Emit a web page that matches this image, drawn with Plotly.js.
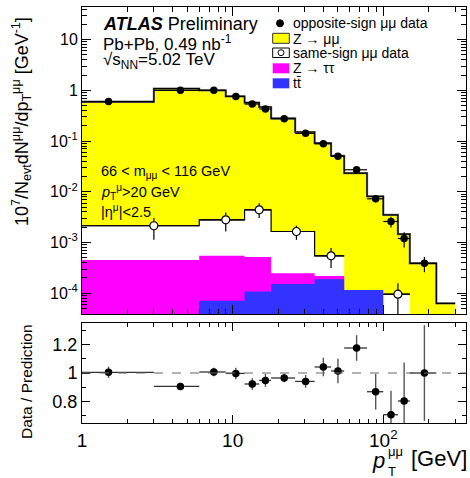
<!DOCTYPE html>
<html><head><meta charset="utf-8">
<script src="https://cdn.plot.ly/plotly-3.0.1.min.js"></script>
<style>body{margin:0;padding:0;background:#fff}</style>
</head><body><div id="plot" style="width:470px;height:478px"></div>
<script>
// ---------------- data ----------------
const binEdges   = [0,3,6,9,12,15,18,26,35,45,55,78,100,125,150,225,300];
const totalPred  = [0.59,1.08,1.0,0.76,0.571,0.47,0.28,0.151,0.091,0.0514,0.0234,0.0081,0.00352,0.00146,3.9e-4,6.3e-5];
const osData     = [0.605,1.0,1.0,0.76,0.537,0.43,0.275,0.142,0.0885,0.050,0.0272,0.00728,0.0026,0.0012,3.9e-4];
const ratioVals  = [1.005,0.906,1.007,0.997,0.923,0.948,0.965,0.941,1.042,1.014,1.175,0.869,0.708,0.804,1.0];
const ratioErr   = [0.04,0.025,0.03,0.04,0.04,0.045,0.03,0.045,0.065,0.085,0.09,0.125,0.168,0.27,0.335];
const ssEdges    = [0,6,12,18,35,55,100,150,300];
const ssData     = [2.14e-3,2.8e-3,4.42e-3,1.65e-3,5.46e-4,0,9.6e-5,0];
const ssErrUp    = [0.9e-3,1.1e-3,1.56e-3,0.5e-3,2.3e-4,0,6.2e-5,0];
const ssErrDown  = [1.0e-3,1.15e-3,1.39e-3,0.52e-3,2.3e-4,0,9.6e-5,0];
const zttLevel   = [4.5e-4,5.46e-4,5.2e-4,2.48e-4,2.2e-4,0,0,0];
const ttbarLevel = [0,7.1e-5,1.08e-4,1.53e-4,1.89e-4,1.16e-4,0,0];
const xTickVals  = [1,10,100];
const xTickText  = ['1','10','10<sup>2</sup>'];
const yTickVals  = [1e-4,1e-3,1e-2,1e-1,1,10];
const yTickText  = ['10<sup>-4</sup>','10<sup>-3</sup>','10<sup>-2</sup>','10<sup>-1</sup>','1','10'];
const rTickVals  = [0.8,1,1.2];
const rTickText  = ['0.8','1','1.2'];

// ---------------- helpers ----------------
const FONT = 'Liberation Sans, Arial, Helvetica, sans-serif';
const xr = [0, Math.log10(354)];
const yr = [Math.log10(3.9e-5), Math.log10(44)];
const xLow = Math.pow(10, xr[0]-0.5);
const FLOOR = 1e-9;

function steps(edges, vals, useNull){
  const x=[], y=[];
  for(let i=0;i<vals.length;i++){
    const lo = edges[i] > 0 ? edges[i] : xLow;
    const hi = edges[i+1];
    let v = vals[i];
    if(!(v > 0)){
      if(useNull){ x.push(lo); y.push(null); continue; }
      v = FLOOR;
    }
    x.push(lo, hi); y.push(v, v);
  }
  return {x, y};
}
function centers(edges, n){ const c=[]; for(let i=0;i<n;i++) c.push((edges[i]+edges[i+1])/2); return c; }

const osC = centers(binEdges, osData.length);
const osXm = osC.map((c,i)=>c-binEdges[i]);
const osXp = osC.map((c,i)=>binEdges[i+1]-c);
const osErr = osData.map((d,i)=>d*ratioErr[i]/ratioVals[i]);

const ssIdx = ssData.map((v,i)=>i).filter(i=>ssData[i]>0);
const ssC = ssIdx.map(i=>(ssEdges[i]+ssEdges[i+1])/2);

function fillTrace(edges, vals, color, lineColor, lw){
  const s = steps(edges, vals, false);
  return {x:s.x, y:s.y, xaxis:'x', yaxis:'y', type:'scatter', mode:'lines',
    fill:'tozeroy', fillcolor:color, line:{color:lineColor, width:lw, shape:'linear'},
    hoverinfo:'skip', showlegend:false};
}
function lineTrace(edges, vals, color, lw){
  const s = steps(edges, vals, true);
  return {x:s.x, y:s.y, xaxis:'x', yaxis:'y', type:'scatter', mode:'lines',
    connectgaps:false, line:{color:color, width:lw}, hoverinfo:'skip', showlegend:false};
}

const traces = [
  fillTrace(binEdges, totalPred, '#ffff00', '#777777', 2.2),
  fillTrace(ssEdges, ssData, '#ffffff', 'rgba(0,0,0,0)', 0),
  fillTrace(ssEdges, zttLevel, '#ff00ff', 'rgba(0,0,0,0)', 0),
  fillTrace(ssEdges, ttbarLevel, '#3333ff', 'rgba(0,0,0,0)', 0),
  lineTrace(binEdges, totalPred, '#000000', 1.2),
  lineTrace(ssEdges, ssData, '#000000', 1.2),
  {x:osC, y:osData, xaxis:'x', yaxis:'y', type:'scatter', mode:'markers',
   marker:{color:'black', size:7.5},
   error_x:{type:'data', symmetric:false, array:osXp, arrayminus:osXm, color:'black', thickness:1.2, width:0},
   error_y:{type:'data', array:osErr, color:'black', thickness:1.2, width:0},
   hoverinfo:'skip', showlegend:false},
  {x:ssC, y:ssIdx.map(i=>ssData[i]), xaxis:'x', yaxis:'y', type:'scatter', mode:'markers',
   marker:{color:'white', size:8, line:{color:'black', width:1.2}},
   error_x:{type:'data', symmetric:false, array:ssIdx.map((i,k)=>ssEdges[i+1]-ssC[k]), arrayminus:ssIdx.map((i,k)=>ssC[k]-ssEdges[i]), color:'black', thickness:1.2, width:0},
   error_y:{type:'data', symmetric:false, array:ssIdx.map(i=>ssErrUp[i]), arrayminus:ssIdx.map(i=>ssErrDown[i]), color:'black', thickness:1.2, width:0},
   hoverinfo:'skip', showlegend:false},
  {x:osC, y:ratioVals, xaxis:'x2', yaxis:'y2', type:'scatter', mode:'markers',
   marker:{color:'black', size:7.5},
   error_x:{type:'data', symmetric:false, array:osXp, arrayminus:osXm, color:'#333', thickness:1.3, width:0},
   error_y:{type:'data', array:ratioErr, color:'#555', thickness:1.4, width:0},
   hoverinfo:'skip', showlegend:false}
];

// minor ticks
const xMinor=[]; [1,10,100].forEach(d=>{for(let k=2;k<=9;k++){ if(k*d<=354) xMinor.push(k*d);} });
const yMinor=[]; for(let n=-5;n<=1;n++){for(let k=2;k<=9;k++) yMinor.push(k*Math.pow(10,n));}
const rMinor=[0.7,0.9,1.1,1.3];

// pixel -> paper
const L=82, R=466, T=7, B=423;
const px = x => (x-L)/(R-L);
const py = y => (B-y)/(B-T);

function ann(text, x, y, size, opt){
  return Object.assign({text:text, xref:'paper', yref:'paper', x:px(x), y:py(y),
    xanchor:'left', yanchor:'middle', showarrow:false, font:{family:FONT, size:size, color:'black'}}, opt||{});
}

const annotations = [
  ann('<b><i>ATLAS</i></b> Preliminary', 101, 24, 18),
  ann('Pb+Pb, 0.49 nb<sup>-1</sup>', 101, 43, 17),
  ann('√s<sub>NN</sub>=5.02 TeV', 101, 61, 17),
  ann('66 &lt; m<sub>μμ</sub> &lt; 116 GeV', 99, 172, 14.5),
  ann('<i>p</i><sub>T</sub><sup>μ</sup>&gt;20 GeV', 99, 192, 14.5),
  ann('|η<sup>μ</sup>|&lt;2.5', 99, 211, 14.5),
  ann('opposite-sign μμ data', 291, 23, 14),
  ann('Z → μμ', 291, 38.5, 14),
  ann('same-sign μμ data', 291, 53, 14),
  ann('Z → ττ', 291, 68, 14),
  ann('tt̄', 291, 83, 14),
  // y titles
  ann('10<sup>7</sup>/N<sub>evt</sub>dN<sup>μμ</sup>/dp<sub>T</sub><sup>μμ</sup> [GeV<sup>-1</sup>]', 21, 122, 18, {textangle:-90, xanchor:'center', yanchor:'middle'}),
  ann('Data / Prediction', 26, 382, 15.5, {textangle:-90, xanchor:'center', yanchor:'middle'}),
  // x title
  ann('[GeV]', 469, 459, 22, {xanchor:'right'}),
  ann('<i>p</i>', 387, 460, 22, {xanchor:'right'}),
  ann('μμ', 386, 451, 13, {xanchor:'left'}),
  ann('T', 386, 472, 13, {xanchor:'left'})
];

const shapes = [
  {type:'line', xref:'x2 domain', x0:0, x1:1, yref:'y2', y0:1, y1:1, line:{color:'#666', width:1.2, dash:'dash'}},
  // legend symbols
  {type:'circle', xref:'paper', yref:'paper', xsizemode:'pixel', ysizemode:'pixel', xanchor:px(280), yanchor:py(23.3),
   x0:-3.5, x1:3.5, y0:-3.5, y1:3.5, fillcolor:'black', line:{color:'black', width:1}},
  {type:'rect', xref:'paper', yref:'paper', x0:px(272.7), x1:px(289.3), y0:py(43.3), y1:py(33.3), fillcolor:'#ffff00', line:{color:'#333', width:1}},
  {type:'rect', xref:'paper', yref:'paper', x0:px(272.7), x1:px(289.3), y0:py(57.5), y1:py(48), fillcolor:'white', line:{color:'black', width:1}},
  {type:'circle', xref:'paper', yref:'paper', xsizemode:'pixel', ysizemode:'pixel', xanchor:px(281), yanchor:py(52.7),
   x0:-3, x1:3, y0:-3, y1:3, fillcolor:'white', line:{color:'black', width:1}},
  {type:'rect', xref:'paper', yref:'paper', x0:px(272.7), x1:px(289.3), y0:py(73.3), y1:py(63.3), fillcolor:'#ff00ff', line:{width:0}},
  {type:'rect', xref:'paper', yref:'paper', x0:px(272.7), x1:px(289.3), y0:py(88.3), y1:py(78.3), fillcolor:'#3333ff', line:{width:0}}
];

const axBase = {showline:true, linecolor:'black', linewidth:1, mirror:'allticks', showgrid:false, zeroline:false,
  ticks:'inside', tickcolor:'black', tickwidth:1, tickfont:{family:FONT, size:16, color:'black'}};

const layout = {
  width:470, height:478,
  margin:{l:L, r:470-R, t:T, b:478-B},
  paper_bgcolor:'white', plot_bgcolor:'white',
  font:{family:FONT, color:'black'},
  showlegend:false,
  xaxis: Object.assign({}, axBase, {type:'log', range:xr, domain:[0,1], anchor:'y',
    tickmode:'array', tickvals:xTickVals, ticktext:xTickText, showticklabels:false, ticklen:9,
    minor:{tickmode:'array', tickvals:xMinor, ticks:'inside', ticklen:5, tickcolor:'black', showgrid:false}}),
  xaxis2: Object.assign({}, axBase, {type:'log', range:xr, domain:[0,1], anchor:'y2', matches:'x',
    tickmode:'array', tickvals:xTickVals, ticktext:xTickText, ticklen:8,
    tickfont:{family:FONT, size:19, color:'black'},
    minor:{tickmode:'array', tickvals:xMinor, ticks:'inside', ticklen:4, tickcolor:'black', showgrid:false}}),
  yaxis: Object.assign({}, axBase, {type:'log', range:yr, domain:[(B-314)/(B-T), 1], anchor:'x',
    tickmode:'array', tickvals:yTickVals, ticktext:yTickText, ticklen:9,
    minor:{tickmode:'array', tickvals:yMinor, ticks:'inside', ticklen:5, tickcolor:'black', showgrid:false}}),
  yaxis2: Object.assign({}, axBase, {range:[0.65,1.35], domain:[0, (B-323)/(B-T)], anchor:'x2',
    tickmode:'array', tickvals:rTickVals, ticktext:rTickText, ticklen:8,
    tickfont:{family:FONT, size:18, color:'black'},
    minor:{tickmode:'array', tickvals:rMinor, ticks:'inside', ticklen:4, tickcolor:'black', showgrid:false}}),
  annotations: annotations,
  shapes: shapes
};

Plotly.newPlot('plot', traces, layout, {staticPlot:true, displayModeBar:false});
</script>
</body></html>
